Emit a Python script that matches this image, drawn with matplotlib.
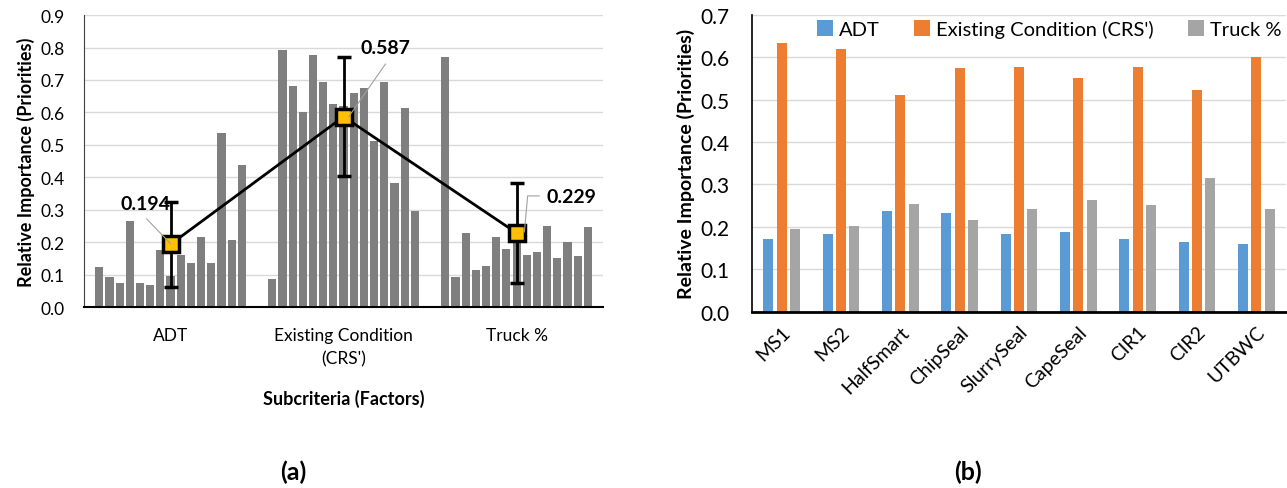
import numpy as np
import matplotlib
matplotlib.use("Agg")
import matplotlib.pyplot as plt

plt.rcParams["font.family"] = ["Lato", "DejaVu Sans"]

# panel (a): individual respondents' priorities per subcriterion
factors = ["ADT", "Existing Condition\n(CRS')", "Truck %"]
adt_vals = [0.123, 0.094, 0.074, 0.266, 0.075, 0.069, 0.178, 0.096,
            0.160, 0.135, 0.217, 0.135, 0.537, 0.208, 0.439]
crs_vals = [0.087, 0.793, 0.680, 0.602, 0.778, 0.694, 0.625, 0.620,
            0.660, 0.674, 0.513, 0.694, 0.383, 0.615, 0.297]
truck_vals = [0.772, 0.094, 0.228, 0.116, 0.128, 0.218, 0.179, 0.255,
              0.160, 0.171, 0.250, 0.153, 0.200, 0.158, 0.246]
mean_vals = [0.194, 0.587, 0.229]
err_vals = [0.131, 0.184, 0.155]

# panel (b): priorities per treatment
treatments = ["MS1", "MS2", "HalfSmart", "ChipSeal", "SlurrySeal",
              "CapeSeal", "CIR1", "CIR2", "UTBWC"]
b_adt = [0.171, 0.182, 0.237, 0.232, 0.182, 0.189, 0.171, 0.164, 0.159]
b_crs = [0.634, 0.620, 0.511, 0.574, 0.577, 0.550, 0.577, 0.523, 0.601]
b_truck = [0.196, 0.201, 0.255, 0.216, 0.241, 0.263, 0.252, 0.315, 0.241]

GRID = "#d9d9d9"
fig = plt.figure(figsize=(12.87, 4.89), dpi=100)

# ---------------- (a) ----------------
ax = fig.add_axes([0.0653, 0.3695, 0.4033, 0.5977])
slot = 1 / 17
for i, vals in enumerate([adt_vals, crs_vals, truck_vals]):
    xs = i + (np.arange(len(vals)) - 7) * slot
    ax.bar(xs, vals, slot * 0.8, color="#7f7f7f", zorder=2)
ax.errorbar(range(3), mean_vals, yerr=err_vals, color="black", lw=2,
            elinewidth=2, capsize=5, capthick=2, marker="s", ms=11,
            mfc="#ffc000", mec="black", mew=2.5, zorder=4)
ax.set_xlim(-0.5, 2.5)
ax.set_ylim(0, 0.9)
ax.set_yticks(np.arange(0, 0.91, 0.1))
ax.set_yticklabels([f"{v:.1f}" for v in np.arange(0, 0.91, 0.1)], fontsize=12.5)
ax.set_xticks(range(3))
ax.set_xticklabels(factors, fontsize=12.5)
for t in ax.get_xticklabels():
    t.set_linespacing(1.6)
ax.tick_params(axis="y", length=0, pad=14)
ax.tick_params(axis="x", length=0, pad=14)
ax.grid(True, axis="y", color=GRID, lw=1, zorder=0)
ax.set_axisbelow(True)
for s in ("top", "right"):
    ax.spines[s].set_visible(False)
ax.spines["left"].set_color("#404040")
ax.spines["bottom"].set_linewidth(1.5)
ax.set_ylabel("Relative Importance (Priorities)", fontsize=13,
              fontweight="bold", labelpad=4)
ax.set_xlabel("Subcriteria (Factors)", fontsize=13, fontweight="bold",
              labelpad=16)

lead = dict(color="#a0a0a0", lw=0.8)
ax.plot([-0.138, 0.0], [0.272, 0.196], zorder=5, **lead)
ax.plot([1.242, 1.03], [0.749, 0.587], zorder=5, **lead)
ax.plot([2.131, 2.064, 2.045], [0.343, 0.343, 0.232], zorder=5, **lead)
lbl = dict(fontsize=14, fontweight="bold", ha="center", va="center", zorder=6)
ax.text(-0.147, 0.321, f"{mean_vals[0]:.3f}", **lbl)
ax.text(1.240, 0.801, f"{mean_vals[1]:.3f}", **lbl)
ax.text(2.318, 0.341, f"{mean_vals[2]:.3f}", **lbl)

# ---------------- (b) ----------------
bx = fig.add_axes([0.5843, 0.3605, 0.4149, 0.6074])
x = np.arange(len(treatments))
bw = 0.17
bx.bar(x - 0.225, b_adt, bw, color="#5b9bd5", label="ADT", zorder=2)
bx.bar(x, b_crs, bw, color="#ed7d31", label="Existing Condition (CRS')", zorder=2)
bx.bar(x + 0.225, b_truck, bw, color="#a5a5a5", label="Truck %", zorder=2)
bx.set_xlim(-0.5, len(treatments) - 0.5)
bx.set_ylim(0, 0.7)
bx.set_yticks(np.arange(0, 0.71, 0.1))
bx.set_yticklabels([f"{v:.1f}" for v in np.arange(0, 0.71, 0.1)], fontsize=15)
bx.set_xticks(x)
bx.set_xticklabels(treatments, fontsize=14, rotation=45, ha="right",
                   rotation_mode="anchor")
bx.tick_params(axis="y", length=0, pad=16)
bx.tick_params(axis="x", length=0, pad=8)
bx.grid(True, axis="y", color=GRID, lw=1, zorder=0)
bx.set_axisbelow(True)
for s in ("top", "right"):
    bx.spines[s].set_visible(False)
bx.spines["left"].set_linewidth(1.2)
bx.spines["bottom"].set_linewidth(2)
bx.set_ylabel("Relative Importance (Priorities)", fontsize=14,
              fontweight="bold", labelpad=4)
bx.legend(loc="upper left", bbox_to_anchor=(0.095, 1.03), ncol=3,
          frameon=False, fontsize=14.5, handlelength=0.8, handleheight=0.8,
          handletextpad=0.3, columnspacing=1.7, borderpad=0.2)

fig.text(293 / 1287, 1 - 472 / 489, "(a)", fontsize=18, fontweight="bold",
         ha="center", va="center")
fig.text(968 / 1287, 1 - 472 / 489, "(b)", fontsize=18, fontweight="bold",
         ha="center", va="center")

fig.savefig("out.png", dpi=100)
